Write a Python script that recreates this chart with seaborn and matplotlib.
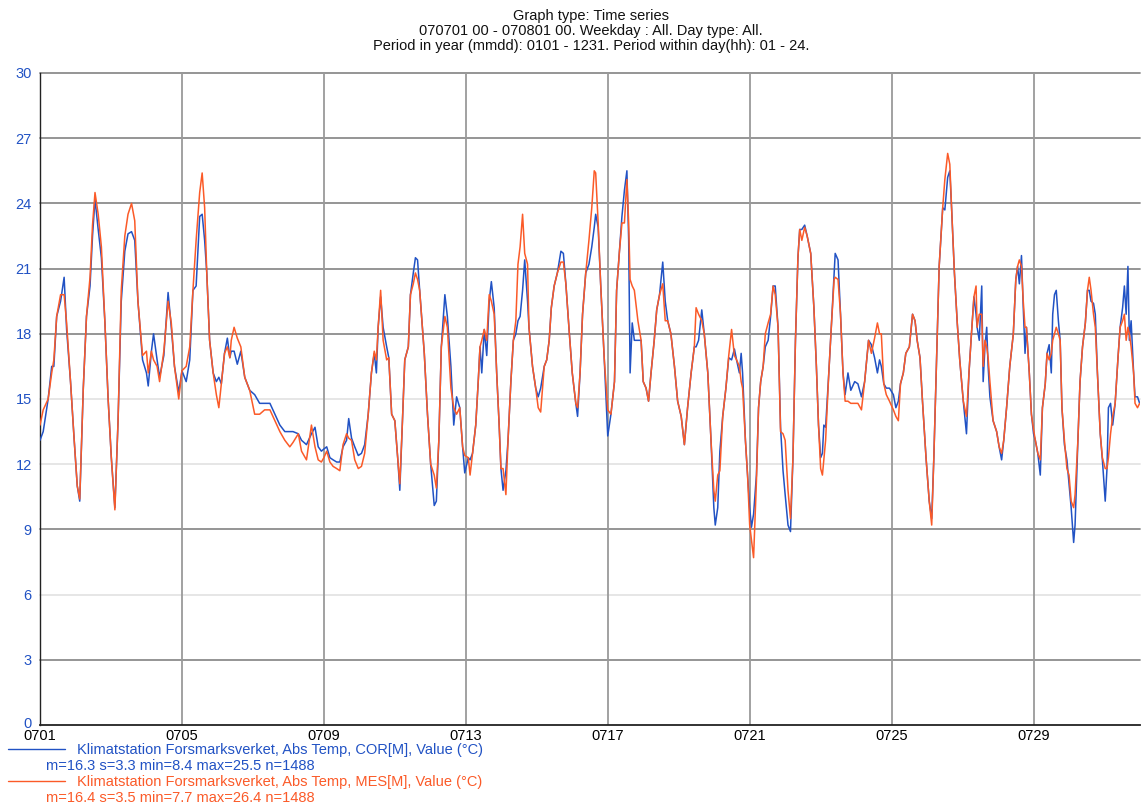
import numpy as np
import pandas as pd
import matplotlib
matplotlib.use("Agg")
import matplotlib.pyplot as plt
import matplotlib.transforms as mtransforms
import seaborn as sns
from matplotlib.lines import Line2D

# ---------------- data (time in days since 0701 00:00, temperature in °C) ----------------
t_w1 = [0.00,0.09,0.23,0.33,0.39,0.47,0.58,0.68,0.75,0.86,0.96,1.05,1.12,1.22,1.31,1.41,1.48,1.55,1.64,1.73,
        1.83,1.92,2.01,2.11,2.20,2.29,2.39,2.48,2.58,2.67,2.76,2.89,3.00,3.05,3.14,3.20,3.30,3.37,3.49,3.61,
        3.70,3.79,3.91]
cor_w1 = [13.1,13.5,15.0,16.5,16.5,18.8,19.5,20.6,18.2,15.8,13.2,11.0,10.3,15.5,18.8,20.2,22.5,24.2,22.8,21.5,
          18.5,15.0,12.3,10.0,14.0,19.5,21.8,22.6,22.7,22.3,19.5,16.8,16.2,15.6,17.2,18.0,16.8,16.0,17.0,19.9,
          18.3,16.5,15.3]
mes_w1 = [13.8,14.5,15.0,16.2,16.8,18.8,19.8,19.8,18.5,15.8,13.2,11.0,10.4,15.5,18.8,20.6,23.0,24.5,23.5,22.0,
          18.5,15.0,12.3,9.9,14.0,20.0,22.5,23.5,24.0,23.2,19.5,17.0,17.2,16.2,17.2,16.8,16.5,15.8,17.2,19.5,
          18.5,16.5,15.0]

t_w2 = [4.00,4.12,4.22,4.31,4.40,4.50,4.57,4.64,4.70,4.78,4.88,4.97,5.04,5.11,5.20,5.28,5.35,5.39,5.47,5.56,
        5.66,5.77,5.91,6.05,6.19,6.33,6.48,6.62,6.76,6.90,7.04,7.13,7.28,7.37,7.51,7.65,7.75,7.84,7.93]
cor_w2 = [16.3,15.8,16.8,20.0,20.2,23.4,23.5,22.3,20.8,17.7,16.2,15.8,16.0,15.7,17.1,17.8,16.9,17.2,17.2,16.6,
          17.2,16.0,15.4,15.2,14.8,14.8,14.8,14.3,13.8,13.5,13.5,13.5,13.4,13.1,12.9,13.4,13.7,12.8,12.6]
mes_w2 = [16.3,16.5,17.4,20.0,22.3,24.5,25.4,23.8,20.8,17.7,16.2,15.2,14.6,15.7,17.1,17.4,16.9,17.7,18.3,17.8,
          17.4,16.0,15.4,14.3,14.3,14.5,14.5,14.0,13.5,13.1,12.8,13.0,13.4,12.6,12.2,13.8,12.8,12.2,12.1]

t_w3 = [8.00,8.08,8.17,8.26,8.36,8.45,8.54,8.64,8.70,8.78,8.87,8.97,9.06,9.15,9.25,9.34,9.42,9.48,9.53,9.60,
        9.67,9.77,9.83,9.91,10.00,10.08,10.14,10.21,10.28,10.38,10.44,10.52,10.58,10.64,10.70,10.83,10.92,11.01,
        11.11,11.17,11.24,11.31,11.41,11.48,11.58,11.66,11.74,11.83,11.91,11.97]
cor_w3 = [12.7,12.8,12.3,12.2,12.1,12.1,12.8,13.1,14.1,13.2,12.8,12.4,12.5,12.9,14.3,16.2,17.1,16.2,18.3,19.7,
          18.3,17.4,16.9,14.3,14.0,12.3,10.8,13.8,16.8,17.4,19.8,20.8,21.5,21.4,20.0,17.1,14.3,12.0,
          10.1,10.3,13.1,17.4,19.8,18.8,16.5,13.8,15.1,14.6,12.8,11.6]
mes_w3 = [12.3,12.6,12.1,11.9,11.8,11.7,12.9,13.4,13.2,13.1,12.2,11.8,11.9,12.5,14.3,16.2,17.2,16.8,18.3,20.0,
          17.7,16.8,16.9,14.3,14.0,12.3,11.1,13.8,16.8,17.4,19.8,20.3,20.8,20.5,20.0,17.1,14.3,12.0,
          11.5,10.9,13.1,17.4,18.8,18.3,15.5,14.6,14.3,14.6,12.8,12.4]

t_w4 = [12.07,12.12,12.19,12.28,12.35,12.40,12.45,12.52,12.59,12.66,12.72,12.80,12.87,12.94,12.99,13.05,13.13,
        13.19,13.27,13.34,13.41,13.47,13.53,13.60,13.66,13.74,13.78,13.88,13.97,14.04,14.11,14.21,14.28,14.35,
        14.41,14.49,14.58,14.68,14.75,14.82,14.91,15.00,15.10,15.15,15.22,15.29,15.38,15.47,15.55,15.62,15.66,
        15.73,15.80,15.90]
cor_w4 = [12.3,12.2,12.5,13.8,15.8,17.4,16.2,18.2,17.0,19.5,20.4,19.2,16.2,13.8,11.8,10.8,11.7,
          13.1,15.8,17.7,18.0,18.6,18.8,20.0,21.4,19.5,18.3,16.5,15.5,15.1,15.5,16.5,16.8,17.7,
          19.2,20.2,20.8,21.8,21.7,20.3,18.2,16.2,14.8,14.2,16.2,18.9,20.8,21.2,22.0,22.9,23.5,
          22.9,20.3,16.9]
mes_w4 = [12.3,11.5,12.5,13.8,15.8,17.4,17.7,18.2,17.7,19.8,19.5,18.9,16.2,13.8,11.8,11.8,10.6,
          13.1,15.8,17.7,18.6,21.2,22.0,23.5,21.7,21.2,18.3,16.5,15.5,14.6,14.4,16.5,16.8,17.7,
          19.2,20.2,20.8,21.3,21.3,20.3,18.2,16.2,14.8,14.6,16.2,18.9,20.8,22.3,23.8,25.5,25.4,
          23.1,20.3,16.9]

t_w5 = [16.00,16.09,16.19,16.25,16.33,16.40,16.47,16.54,16.59,16.63,16.69,16.75,16.85,16.94,17.00,17.08,17.15,
        17.22,17.31,17.38,17.46,17.55,17.62,17.69,17.78,17.88,17.97,18.07,18.16,18.25,18.35,18.44,18.49,18.56,
        18.65,18.72,18.82,18.91,18.99,19.03,19.10,19.16,19.24,19.33,19.41,19.49,19.57,19.63,19.71,19.76,19.80,
        19.88,19.94]
cor_w5 = [13.3,14.3,15.8,20.0,21.8,23.4,24.6,25.5,22.3,16.2,18.5,17.7,17.7,17.7,15.8,15.5,14.9,
          16.2,17.7,19.1,19.8,21.3,19.5,18.6,18.0,16.5,14.9,14.2,12.9,14.6,16.2,17.4,17.4,17.7,
          19.1,18.0,16.2,13.1,10.0,9.2,10.0,12.6,14.2,15.5,16.9,16.8,17.3,16.8,16.2,17.1,16.2,
          13.1,11.5]
mes_w5 = [14.5,14.3,15.8,20.0,21.8,23.1,23.1,25.1,23.1,20.5,20.2,20.0,18.6,17.7,15.8,15.5,14.9,
          16.2,17.7,19.1,19.8,20.3,18.6,18.6,18.0,16.5,14.9,14.2,12.9,14.6,16.2,17.4,19.2,18.9,
          18.6,18.0,16.2,13.1,10.8,10.3,11.5,11.7,14.2,15.5,17.0,18.2,17.0,16.8,16.5,15.8,15.5,
          13.1,11.5]

t_w6 = [20.00,20.05,20.11,20.19,20.25,20.31,20.38,20.44,20.52,20.59,20.66,20.72,20.80,20.87,20.94,21.00,21.08,
        21.15,21.22,21.29,21.36,21.41,21.47,21.55,21.62,21.72,21.81,21.88,21.94,22.00,22.05,22.09,22.14,22.23,
        22.30,22.38,22.41,22.49,22.56,22.63,22.69,22.77,22.85,22.96,23.05,23.15,23.24,23.35,23.43,23.52,23.60,
        23.66,23.71,23.78,23.85,23.94]
cor_w6 = [10.0,9.1,9.7,11.5,14.6,15.8,16.5,17.4,17.7,18.8,20.2,20.2,18.3,13.7,11.7,10.6,9.2,
          8.9,12.3,17.7,21.5,22.8,22.8,23.0,22.5,21.7,19.2,16.5,13.8,12.3,12.5,13.8,13.7,16.2,
          18.3,20.8,21.7,21.4,18.9,16.2,15.2,16.2,15.4,15.8,15.7,15.1,15.8,17.7,17.5,16.9,16.2,
          16.8,16.5,15.7,15.5,15.5]
mes_w6 = [9.2,8.5,7.7,11.2,14.6,15.8,16.5,18.0,18.5,18.9,20.2,19.8,18.3,13.5,13.4,13.1,10.8,
          9.5,12.3,17.7,21.5,22.8,22.3,22.9,22.5,21.7,19.2,16.5,13.8,11.8,11.5,12.2,13.1,16.2,
          18.3,20.5,20.6,20.5,18.9,16.2,14.9,14.9,14.8,14.8,14.8,14.5,15.8,17.7,17.1,17.8,18.5,
          18.0,18.0,15.7,15.2,14.9]

t_w7 = [24.05,24.12,24.19,24.25,24.33,24.40,24.50,24.59,24.66,24.72,24.80,24.87,24.97,25.06,25.13,25.19,25.27,
        25.34,25.44,25.50,25.58,25.64,25.69,25.77,25.85,25.92,26.02,26.11,26.18,26.25,26.32,26.38,26.41,26.47,
        26.54,26.58,26.63,26.68,26.72,26.77,26.86,26.96,27.03,27.10,27.16,27.24,27.33,27.43,27.50,27.55,27.60,
        27.66,27.71,27.76,27.80,27.88,27.94]
cor_w7 = [15.2,14.6,14.9,15.7,16.2,17.1,17.4,18.9,18.6,17.7,16.9,14.9,12.3,10.3,9.5,12.3,16.9,
          21.1,23.8,23.7,25.2,25.5,23.8,20.8,18.5,16.8,14.9,13.4,16.2,18.0,19.7,18.9,18.3,17.7,
          20.2,15.8,17.4,18.3,16.5,15.1,14.0,13.5,12.8,12.2,13.1,14.6,16.5,18.0,20.5,21.1,20.3,
          21.6,19.2,17.1,18.3,16.2,14.3]
mes_w7 = [14.5,14.2,14.0,15.7,16.2,17.1,17.4,18.9,18.6,17.7,16.9,14.9,12.3,10.3,9.2,12.3,16.9,
          21.1,23.8,25.1,26.3,25.8,23.8,20.8,18.5,16.8,14.9,14.2,16.2,18.0,19.7,20.2,18.3,18.9,
          18.9,16.5,17.7,17.4,16.9,15.8,14.0,13.5,12.8,12.5,13.1,14.6,16.5,18.0,20.5,21.1,21.4,
          21.1,19.5,18.3,18.3,16.2,14.3]

t_w8 = [28.00,28.05,28.12,28.19,28.25,28.33,28.38,28.44,28.50,28.54,28.59,28.64,28.70,28.75,28.80,28.87,28.94,
        29.00,29.06,29.13,29.17,29.25,29.31,29.38,29.46,29.52,29.57,29.62,29.69,29.74,29.80,29.88,29.94,30.02,
        30.07,30.11,30.17,30.23,30.30,30.38,30.44,30.51,30.56,30.61,30.66,30.70,30.75,30.82,30.86,30.93,30.99]
cor_w8 = [13.4,13.1,12.5,11.5,14.6,15.7,17.1,17.5,16.2,18.9,19.8,20.0,18.6,17.7,14.6,12.9,12.2,
          11.1,10.0,8.4,9.2,13.1,15.8,17.4,18.5,20.0,20.0,19.5,19.4,18.9,16.2,13.4,12.2,10.3,
          11.8,14.6,14.8,13.8,14.8,16.9,18.3,19.2,20.2,18.9,21.1,17.7,18.6,16.2,15.1,15.1,14.8]
mes_w8 = [13.6,13.1,12.5,12.2,14.6,15.7,17.1,16.8,17.1,17.7,18.0,18.3,18.0,17.7,14.6,13.1,11.8,
          11.5,10.3,10.0,10.6,13.1,15.8,17.4,18.5,20.0,20.6,20.0,18.9,18.3,16.2,13.4,12.3,11.8,
          11.8,12.3,13.4,14.2,14.8,16.9,18.3,18.6,18.9,17.7,18.3,18.0,17.4,16.2,14.8,14.6,14.8]

days = t_w1 + t_w2 + t_w3 + t_w4 + t_w5 + t_w6 + t_w7 + t_w8
cor = cor_w1 + cor_w2 + cor_w3 + cor_w4 + cor_w5 + cor_w6 + cor_w7 + cor_w8
mes = mes_w1 + mes_w2 + mes_w3 + mes_w4 + mes_w5 + mes_w6 + mes_w7 + mes_w8

x_tick_days = [0, 4, 8, 12, 16, 20, 24, 28]
x_tick_labels = ["0701", "0705", "0709", "0713", "0717", "0721", "0725", "0729"]
y_ticks = [0, 3, 6, 9, 12, 15, 18, 21, 24, 27, 30]
light_grid = [6, 12, 15]

title_lines = ["Graph type: Time series",
               "070701 00 - 070801 00. Weekday : All. Day type: All.",
               "Period in year (mmdd): 0101 - 1231. Period within day(hh): 01 - 24."]
legend_names = ["Klimatstation Forsmarksverket, Abs Temp, COR[M], Value (\u00b0C)",
                "Klimatstation Forsmarksverket, Abs Temp, MES[M], Value (\u00b0C)"]
legend_stats = ["m=16.3 s=3.3 min=8.4 max=25.5 n=1488",
                "m=16.4 s=3.5 min=7.7 max=26.4 n=1488"]

BLUE = "#2152c4"
RED = "#fb5a28"

# ---------------- plot ----------------
sns.set_style("white")
plt.rcParams["font.family"] = ["Liberation Sans", "DejaVu Sans"]

W, H = 1141, 808
fig = plt.figure(figsize=(W / 100, H / 100), dpi=100)
ax = fig.add_axes([40 / W, 1 - 725 / H, 1100 / W, (725 - 73) / H])

n = len(days)
df = pd.DataFrame({"day": days + days,
                   "temp": cor + mes,
                   "series": ["COR"] * n + ["MES"] * n})
sns.lineplot(data=df, x="day", y="temp", hue="series",
             palette={"COR": BLUE, "MES": RED}, linewidth=1.1,
             estimator=None, sort=False, legend=False, ax=ax, zorder=3)

ax.set_xlim(0, 31)
ax.set_ylim(0, 30)
ax.set_xlabel("")
ax.set_ylabel("")

for yv in y_ticks[1:]:
    col = "#e4e4e4" if yv in light_grid else "#8c8c8c"
    ax.axhline(yv, color=col, lw=1.3, zorder=1, clip_on=False)
for xv in x_tick_days[1:]:
    ax.axvline(xv, color="#9a9a9a", lw=1.3, zorder=1)

ax.set_yticks(y_ticks)
ax.set_yticklabels([str(v) for v in y_ticks])
ax.tick_params(axis="y", colors=BLUE, length=5, width=1, labelsize=10.5, pad=1)
ax.set_xticks(x_tick_days)
ax.set_xticklabels(x_tick_labels)
ax.tick_params(axis="x", colors="black", length=2, width=1, labelsize=10.5, pad=1)

# lift the "0" label slightly, as in the reference
zero_lbl = ax.get_yticklabels()[0]
zero_lbl.set_transform(zero_lbl.get_transform() +
                       mtransforms.ScaledTranslation(0, 3 / 100, fig.dpi_scale_trans))

for s in ["top", "right"]:
    ax.spines[s].set_visible(False)
ax.spines["left"].set_color("#222222")
ax.spines["left"].set_linewidth(1.0)
ax.spines["bottom"].set_color("#222222")
ax.spines["bottom"].set_linewidth(1.3)

# title
for i, line in enumerate(title_lines):
    fig.text(591 / W, 1 - (16 + 15 * i) / H, line, ha="center", va="center",
             fontsize=10.5, color="#111111")

# legend
for i, (name, stats, col) in enumerate(zip(legend_names, legend_stats, [BLUE, RED])):
    y0 = 750 + 32 * i
    fig.add_artist(Line2D([8 / W, 65 / W], [1 - (y0 - 1) / H] * 2, color=col, lw=1.0,
                          transform=fig.transFigure))
    fig.text(77 / W, 1 - y0 / H, name, ha="left", va="center", fontsize=10.5, color=col)
    fig.text(46 / W, 1 - (y0 + 16) / H, stats, ha="left", va="center", fontsize=10.5, color=col)

fig.savefig("out.png", dpi=100, facecolor="white")
